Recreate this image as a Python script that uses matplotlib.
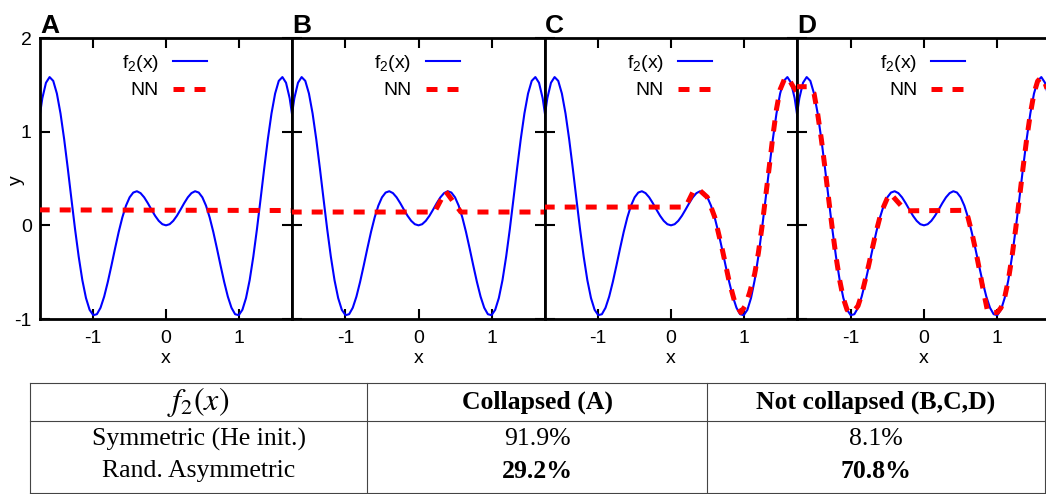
import matplotlib
matplotlib.use("Agg")
import matplotlib.pyplot as plt

plt.rcParams['font.family'] = ['Liberation Sans', 'DejaVu Sans']
plt.rcParams['mathtext.fontset'] = 'custom'
plt.rcParams['mathtext.rm'] = 'Liberation Sans'
plt.rcParams['mathtext.it'] = 'Liberation Sans:italic'
plt.rcParams['axes.unicode_minus'] = False

# target function f2(x), values every 0.05
x_f = [-1.75, -1.70, -1.65, -1.60, -1.55, -1.50, -1.45, -1.40, -1.35, -1.30,
       -1.25, -1.20, -1.15, -1.10, -1.05, -1.00, -0.95, -0.90, -0.85, -0.80,
       -0.75, -0.70, -0.65, -0.60, -0.55, -0.50, -0.45, -0.40, -0.35, -0.30,
       -0.25, -0.20, -0.15, -0.10, -0.05, 0.00, 0.05, 0.10, 0.15, 0.20,
       0.25, 0.30, 0.35, 0.40, 0.45, 0.50, 0.55, 0.60, 0.65, 0.70,
       0.75, 0.80, 0.85, 0.90, 0.95, 1.00, 1.05, 1.10, 1.15, 1.20,
       1.25, 1.30, 1.35, 1.40, 1.45, 1.50, 1.55, 1.60, 1.65, 1.70, 1.75]
y_f = [1.093, 1.357, 1.522, 1.583, 1.542, 1.407, 1.194, 0.920, 0.608, 0.280,
       -0.042, -0.335, -0.585, -0.776, -0.902, -0.959, -0.949, -0.880, -0.761, -0.605,
       -0.429, -0.246, -0.070, 0.085, 0.210, 0.299, 0.350, 0.364, 0.344, 0.299,
       0.237, 0.168, 0.102, 0.048, 0.012, 0.000, 0.012, 0.048, 0.102, 0.168,
       0.237, 0.299, 0.344, 0.364, 0.350, 0.299, 0.210, 0.085, -0.070, -0.246,
       -0.429, -0.605, -0.761, -0.880, -0.949, -0.959, -0.902, -0.776, -0.585, -0.335,
       -0.042, 0.280, 0.608, 0.920, 1.194, 1.407, 1.542, 1.583, 1.522, 1.357, 1.093]

# NN outputs, one per panel
nn_x_a = [-1.75, 1.75]
nn_y_a = [0.165, 0.158]

nn_x_b = [-1.75, 0.22, 0.37, 0.58, 1.75]
nn_y_b = [0.142, 0.142, 0.365, 0.142, 0.142]

nn_x_c = [-1.75, 0.20, 0.32, 0.40, 0.50, 0.60, 0.70, 0.80, 0.88, 0.96, 1.02,
          1.08, 1.15, 1.20, 1.25, 1.30, 1.35, 1.40, 1.45, 1.50, 1.57, 1.62, 1.68, 1.75]
nn_y_c = [0.195, 0.195, 0.385, 0.37, 0.30, 0.09, -0.24, -0.60, -0.83, -0.93, -0.86,
          -0.72, -0.52, -0.30, -0.02, 0.30, 0.62, 0.95, 1.24, 1.45, 1.58, 1.56, 1.48, 1.40]

nn_x_d = [-1.75, -1.58, -1.50, -1.45, -1.40, -1.35, -1.30, -1.25, -1.20, -1.15,
          -1.10, -1.05, -1.02, -0.97, -0.90, -0.85, -0.80, -0.75, -0.70, -0.65,
          -0.60, -0.55, -0.50, -0.46, -0.25, 0.56, 0.60, 0.65, 0.70, 0.75,
          0.80, 0.87, 1.00, 1.05, 1.10, 1.15, 1.20, 1.25, 1.30, 1.35,
          1.40, 1.45, 1.50, 1.55, 1.60, 1.65, 1.75]
nn_y_d = [1.48, 1.48, 1.41, 1.19, 0.92, 0.61, 0.28, -0.04, -0.335, -0.585,
          -0.78, -0.90, -0.93, -0.93, -0.86, -0.74, -0.58, -0.41, -0.23, -0.06,
          0.09, 0.20, 0.29, 0.34, 0.155, 0.16, 0.085, -0.07, -0.25, -0.45,
          -0.66, -0.93, -0.93, -0.88, -0.77, -0.585, -0.335, -0.04, 0.28, 0.61,
          0.92, 1.19, 1.41, 1.54, 1.58, 1.52, 1.30]

panel_letters = ["A", "B", "C", "D"]
nn_x = [nn_x_a, nn_x_b, nn_x_c, nn_x_d]
nn_y = [nn_y_a, nn_y_b, nn_y_c, nn_y_d]

# table below the plots
table_header = ["$f_2(x)$", "Collapsed (A)", "Not collapsed (B,C,D)"]
row_names = ["Symmetric (He init.)", "Rand. Asymmetric"]
collapsed = ["91.9%", "29.2%"]
not_collapsed = ["8.1%", "70.8%"]
row_bold = [False, True]

W, H = 1046, 494
fig = plt.figure(figsize=(W / 100, H / 100), dpi=100)

# panel edges in pixels
lefts = [40, 292, 545, 797]
widths = [252, 253, 252, 254]
top, bottom = 38, 319
fs = 14

for i in range(4):
    ax = fig.add_axes([lefts[i] / W, 1 - bottom / H, widths[i] / W, (bottom - top) / H])
    ax.plot(x_f, y_f, color='#0000ff', lw=1.5, label='f$_2$(x)', zorder=2)
    ax.plot(nn_x[i], nn_y[i], color='#ff0000', lw=3.6, dashes=(2.2, 2.0),
            label='NN', zorder=3)
    ax.set_xlim(-1.732, 1.732)
    ax.set_ylim(-1, 2)
    ax.set_xticks([-1, 0, 1])
    ax.set_yticks([-1, 0, 1, 2])
    ax.tick_params(direction='in', top=True, right=(i < 3), length=7, width=1.5,
                   labelsize=fs)
    ax.tick_params(axis='x', pad=8)
    ax.tick_params(axis='y', pad=6)
    for s in ax.spines.values():
        s.set_linewidth(2.0)
    if i > 0:
        ax.tick_params(labelleft=False)
    else:
        ax.set_ylabel('y', fontsize=fs)
        ax.yaxis.set_label_coords(-0.06, 0.495)
    ax.set_xlabel('x', fontsize=fs)
    ax.xaxis.set_label_coords(0.5, -0.112)
    ax.text(0.0, 1.018, panel_letters[i], transform=ax.transAxes, fontsize=19,
            fontweight='bold', ha='left', va='baseline')
    ax.legend(loc='upper right', bbox_to_anchor=(0.663, 0.948), frameon=False,
              markerfirst=False, fontsize=fs, handlelength=1.75,
              handletextpad=0.72, labelspacing=0.42, borderpad=0, borderaxespad=0)

# table drawn in pixel coordinates
tab = fig.add_axes([0, 0, 1, 1])
tab.set_xlim(0, W)
tab.set_ylim(H, 0)
tab.axis('off')
col_edges = [30, 367, 707, 1045]
row_top, row_sep, row_bot = 383, 420.5, 493
lc = '#444444'
for xe in col_edges:
    tab.plot([xe, xe], [row_top, row_bot], color=lc, lw=0.8)
for ye in [row_top, row_sep, row_bot]:
    tab.plot([col_edges[0], col_edges[-1]], [ye, ye], color=lc, lw=0.8)

centers = [(col_edges[j] + col_edges[j + 1]) / 2 for j in range(3)]
tab.text(centers[0], 402, table_header[0], fontsize=23, ha='center', va='center',
         math_fontfamily='stix')
for j in (1, 2):
    tab.text(centers[j], 402, table_header[j], fontsize=18.5, ha='center', va='center',
             family='Liberation Serif', fontweight='bold')
row_y = [439, 471]
for r in range(2):
    tab.text(centers[0], row_y[r], row_names[r], fontsize=18.5, ha='center', va='center',
             family='Liberation Serif')
    w = 'bold' if row_bold[r] else 'normal'
    tab.text(centers[1], row_y[r], collapsed[r], fontsize=18.5, ha='center', va='center',
             family='Liberation Serif', fontweight=w)
    tab.text(centers[2], row_y[r], not_collapsed[r], fontsize=18.5, ha='center', va='center',
             family='Liberation Serif', fontweight=w)

fig.savefig('out.png', dpi=100)
